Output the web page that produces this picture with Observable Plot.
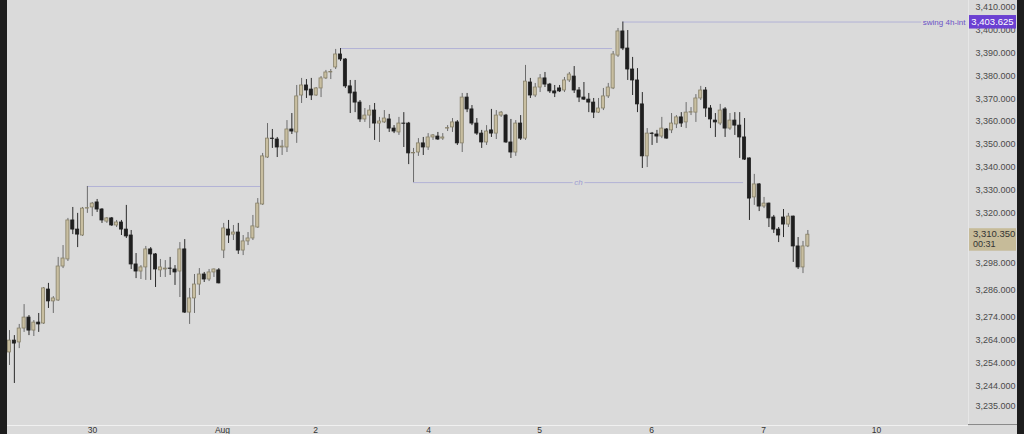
<!DOCTYPE html>
<html><head><meta charset="utf-8">
<script src="https://cdn.jsdelivr.net/npm/d3@7"></script>
<script src="https://cdn.jsdelivr.net/npm/@observablehq/plot@0.6"></script>
<style>
html,body{margin:0;padding:0;background:#dadada;}
#chart{width:1024px;height:434px;overflow:hidden;}
</style></head><body><div id="chart"></div>
<script>
// ---- Data (1h candles) ----
const opens = [3258.7,3263.9,3263.1,3269.2,3274.0,3268.3,3271.8,3271.4,3286.3,3281.1,3281.5,3296.4,3299.5,3316.6,3312.6,3310.0,3321.8,3322.3,3324.5,3321.4,3316.1,3317.5,3314.4,3315.7,3312.6,3310.0,3297.3,3294.2,3296.0,3303.9,3301.7,3294.7,3295.1,3295.5,3295.1,3294.2,3303.9,3276.2,3282.4,3288.5,3292.9,3290.7,3293.8,3294.7,3303.4,3312.6,3310.4,3311.3,3303.4,3307.4,3308.7,3313.5,3323.6,3344.2,3352.5,3352.1,3348.6,3348.6,3356.5,3355.2,3371.4,3375.8,3374.0,3371.4,3374.5,3378.9,3381.5,3383.7,3389.4,3387.2,3375.4,3372.7,3368.3,3360.9,3362.6,3364.8,3359.1,3359.6,3360.9,3356.9,3355.2,3359.1,3359.1,3346.0,3346.4,3350.4,3348.6,3353.0,3353.4,3352.5,3356.9,3357.4,3359.6,3350.4,3370.5,3365.3,3359.1,3354.7,3350.8,3356.1,3354.7,3362.6,3362.6,3350.8,3346.4,3359.1,3352.5,3377.1,3371.4,3374.9,3378.9,3376.2,3373.2,3374.5,3373.6,3378.0,3379.7,3373.6,3370.5,3369.6,3368.3,3363.9,3365.7,3371.0,3374.5,3388.9,3399.5,3392.0,3382.8,3378.0,3367.5,3344.7,3354.7,3354.3,3353.4,3356.5,3356.1,3358.7,3361.8,3359.6,3363.9,3363.9,3370.1,3373.6,3365.7,3360.4,3359.1,3365.3,3356.9,3360.4,3358.2,3353.0,3343.8,3326.7,3332.4,3322.7,3324.0,3317.9,3312.6,3317.9,3314.8,3318.3,3305.2,3296.0,3305.2];
const highs = [3268.3,3266.1,3271.0,3279.7,3274.9,3272.7,3275.8,3287.2,3289.0,3283.2,3300.4,3305.6,3317.5,3322.3,3319.7,3322.3,3331.5,3324.5,3325.8,3321.8,3317.9,3317.9,3316.6,3316.6,3323.2,3312.2,3302.1,3296.8,3305.2,3304.7,3302.1,3299.5,3299.0,3300.4,3296.8,3306.9,3308.2,3286.8,3292.9,3295.5,3293.8,3295.1,3295.3,3295.5,3315.3,3316.6,3314.4,3315.3,3310.0,3311.3,3318.8,3326.2,3346.0,3359.1,3356.5,3353.0,3351.7,3360.4,3363.5,3375.8,3378.9,3378.4,3378.9,3374.9,3379.7,3382.4,3382.8,3391.6,3392.0,3387.6,3378.0,3378.0,3369.2,3365.7,3367.0,3367.9,3361.8,3364.8,3363.1,3358.2,3361.8,3363.9,3359.6,3348.2,3352.5,3353.0,3354.7,3354.3,3355.2,3354.7,3358.2,3361.3,3360.4,3372.3,3372.3,3367.0,3361.3,3356.1,3358.2,3365.3,3364.8,3364.4,3363.1,3360.9,3360.4,3362.6,3384.6,3378.9,3376.7,3380.6,3381.5,3376.7,3375.8,3375.8,3379.3,3381.5,3384.1,3374.9,3377.1,3372.3,3370.1,3370.1,3374.5,3376.7,3390.7,3400.8,3403.625,3399.9,3388.1,3383.2,3372.7,3356.9,3355.2,3356.1,3361.8,3356.9,3363.5,3362.6,3363.9,3368.3,3366.1,3371.8,3375.4,3374.9,3367.0,3363.5,3367.5,3366.1,3363.5,3363.9,3363.9,3361.3,3344.0,3336.8,3332.8,3326.7,3324.2,3318.8,3313.5,3321.4,3319.7,3318.5,3309.1,3307.4,3312.2];
const lows = [3253.0,3245.1,3260.4,3267.5,3266.1,3265.7,3267.5,3271.0,3278.0,3275.8,3281.1,3295.5,3298.6,3310.4,3304.7,3309.6,3319.7,3318.3,3320.1,3315.3,3315.3,3314.0,3313.5,3310.0,3308.7,3295.1,3291.1,3290.7,3290.3,3290.3,3287.2,3291.6,3291.6,3292.5,3288.1,3282.8,3275.8,3271.0,3275.8,3283.7,3289.4,3289.8,3291.6,3288.8,3299.9,3306.5,3307.8,3301.7,3301.2,3305.6,3307.8,3313.1,3323.2,3343.8,3348.2,3344.2,3345.1,3346.4,3354.3,3350.4,3367.9,3370.1,3369.2,3371.0,3370.5,3378.4,3378.4,3382.8,3386.3,3374.5,3363.5,3363.9,3359.6,3359.6,3356.9,3351.7,3350.8,3359.1,3355.2,3354.7,3353.9,3348.6,3341.1,3333.2,3344.7,3345.1,3347.3,3351.7,3351.7,3351.7,3355.6,3355.2,3349.5,3346.4,3363.9,3358.2,3353.9,3348.2,3349.5,3353.0,3352.1,3361.8,3350.4,3343.8,3344.7,3351.7,3351.7,3370.1,3370.5,3372.7,3374.9,3372.3,3370.5,3372.7,3372.7,3377.1,3372.3,3368.3,3369.2,3363.9,3361.3,3363.5,3364.8,3370.1,3374.0,3388.1,3391.1,3378.0,3371.4,3363.9,3339.4,3339.8,3349.5,3350.4,3352.5,3352.3,3354.7,3356.9,3357.4,3356.9,3362.6,3359.6,3369.2,3361.8,3356.9,3353.0,3358.2,3353.0,3356.1,3353.9,3343.8,3342.9,3316.6,3323.2,3320.5,3321.8,3313.5,3310.9,3306.9,3309.1,3313.5,3298.2,3295.1,3293.3,3304.7];
const closes = [3263.9,3262.6,3269.2,3274.0,3268.3,3271.8,3271.0,3286.8,3281.1,3282.4,3296.4,3299.9,3316.6,3312.6,3310.4,3321.8,3322.0,3324.0,3321.4,3316.6,3317.5,3314.4,3315.7,3312.6,3309.6,3297.3,3294.2,3296.0,3303.9,3301.7,3295.1,3296.0,3295.5,3295.4,3293.8,3303.9,3276.2,3282.4,3288.5,3292.9,3290.7,3293.8,3295.1,3289.0,3313.1,3310.0,3311.3,3303.4,3307.4,3308.7,3314.0,3324.0,3344.7,3352.5,3352.3,3348.6,3349.0,3356.5,3355.6,3371.0,3375.8,3373.6,3371.4,3374.5,3378.9,3381.5,3381.7,3389.4,3387.2,3375.4,3372.3,3368.3,3360.9,3362.6,3364.8,3359.1,3360.0,3361.3,3356.9,3355.6,3359.1,3359.0,3346.0,3346.2,3350.4,3348.6,3353.0,3353.9,3352.1,3353.0,3357.1,3359.6,3350.4,3370.5,3365.3,3359.1,3354.7,3350.8,3355.6,3354.7,3362.6,3363.9,3350.8,3346.4,3359.1,3352.5,3377.5,3371.4,3374.9,3378.9,3376.2,3373.2,3372.3,3373.2,3378.0,3380.6,3373.6,3370.5,3369.6,3368.3,3363.9,3365.7,3371.0,3374.9,3389.4,3399.5,3392.0,3382.8,3378.0,3367.5,3344.7,3354.7,3354.5,3353.4,3356.9,3352.5,3359.1,3361.8,3359.1,3363.9,3364.1,3370.1,3373.6,3365.7,3360.9,3359.6,3364.8,3356.9,3360.4,3358.2,3353.0,3343.3,3326.2,3332.4,3322.7,3324.0,3317.5,3312.6,3310.0,3314.8,3318.3,3305.2,3296.0,3305.2,3310.35];

// time axis (candle index positions) and labels
const xTickPos = [17.05, 43.75, 62.9, 86.1, 108.9, 131.9, 154.9, 178.1];
const xTickLabels = ["30", "Aug", "2", "4", "5", "6", "7", "10"];
// price axis ticks
const yTicks = [3410,3400,3390,3380,3370,3360,3350,3340,3330,3320,3298,3286,3274,3264,3254,3244,3235];

// horizontal levels
const levelPrice = [3331.5, 3392.0, 3333.2, 3403.625];
const levelStart = [16, 68, 83, 126];
const levelEnd   = [51.6, 123.9, 150.8, 187.4];
const levelLabel = ["", "", "ch", "swing 4h-int"];

const lastPrice = 3310.35;
const lastPriceText = "3,310.350";
const countdownText = "00:31";
const swingPriceText = "3,403.625";

// ---- build ----
const W = 1024, H = 434;
const BG = "#dadada";
const FONT = "'Liberation Sans', Arial, sans-serif";
const candles = opens.map((o, i) => ({i, o, h: highs[i], l: lows[i], c: closes[i], up: closes[i] >= o}));
const levels = levelPrice.map((p, k) => ({p, x1: levelStart[k], x2: levelEnd[k], label: levelLabel[k]}));
const fmt = d3.format(",.3f");

const plot = Plot.plot({
  width: W, height: H,
  marginLeft: 7, marginRight: 56, marginTop: 0, marginBottom: 9,
  style: {background: BG, fontFamily: FONT, overflow: "hidden"},
  x: {domain: [-0.411, 197.0], axis: null},
  y: {domain: [3226.67, 3413.07], axis: null},
  color: {type: "identity"},
  marks: [
    Plot.ruleY([3226.67], {stroke: "#f0f0f0", strokeWidth: 1}),
    Plot.axisY({anchor: "right", ticks: yTicks, tickSize: 0, tickPadding: 7, tickFormat: fmt,
      fontSize: 9, fill: "#4a4a4a", label: null}),
    Plot.axisX({anchor: "bottom", ticks: xTickPos, tickSize: 0, tickPadding: 1,
      tickFormat: d => xTickLabels[xTickPos.indexOf(d)], fontSize: 8.5, fill: "#333", label: null}),
    Plot.ruleY(levels, {x1: "x1", x2: "x2", y: "p", stroke: "#b2b2d6", strokeWidth: 1}),
    Plot.text(levels.filter(d => d.label === "ch"), {x: d => (d.x1 + d.x2) / 2, y: "p", text: "label",
      fill: "#9c9cd2", fontSize: 8, fontStyle: "italic", stroke: BG, strokeWidth: 4}),
    Plot.text(levels.filter(d => d.label.startsWith("swing")), {x: () => 197.0, y: "p", text: "label",
      textAnchor: "end", dx: -3, fill: "#6a52c6", fontSize: 8}),
    Plot.ruleX(candles, {x: "i", y1: "l", y2: "h", stroke: d => d.up ? "#6c6c6c" : "#2a2a2a", strokeWidth: 1}),
    Plot.rect(candles, {x1: d => d.i - 0.32, x2: d => d.i + 0.32, y1: "o", y2: "c",
      fill: d => d.up ? "#c8bea0" : "#1f1f1f", stroke: d => d.up ? "#878069" : "#1f1f1f", strokeWidth: 0.8})
  ]
});

// price-axis decorations positioned with the plot's own y scale
const ys = plot.scale("y");
const svg = d3.select(plot);
const g = svg.append("g").attr("font-family", FONT);
// frame edges
g.append("rect").attr("x", 0).attr("y", 0).attr("width", 7).attr("height", H).attr("fill", "#1d1d1d");
g.append("rect").attr("x", 1017).attr("y", 0).attr("width", 7).attr("height", H).attr("fill", "#1d1d1d");
g.append("line").attr("x1", 968.5).attr("x2", 968.5).attr("y1", 0).attr("y2", 425).attr("stroke", "#e6e6e6");
g.append("line").attr("x1", 968).attr("x2", 1017).attr("y1", 424.5).attr("y2", 424.5).attr("stroke", "#8a8a8a");
// swing label box
const ySw = ys.apply(levelPrice[3]);
g.append("rect").attr("x", 969).attr("y", ySw - 6.5).attr("width", 47).attr("height", 13.5).attr("fill", "#6b40d2");
g.append("text").attr("x", 992.5).attr("y", ySw + 3.2).attr("text-anchor", "middle")
  .attr("font-size", 9.5).attr("fill", "#ffffff").text(swingPriceText);
// last price box
const yLp = ys.apply(lastPrice);
g.append("rect").attr("x", 969).attr("y", yLp - 6).attr("width", 47).attr("height", 22.5).attr("fill", "#c6bb99");
g.append("text").attr("x", 973).attr("y", yLp + 3.2).attr("text-anchor", "start")
  .attr("font-size", 9.5).attr("fill", "#333").text(lastPriceText);
g.append("text").attr("x", 973).attr("y", yLp + 13).attr("text-anchor", "start")
  .attr("font-size", 9).attr("fill", "#333").text(countdownText);

document.getElementById("chart").appendChild(plot);
</script></body></html>
